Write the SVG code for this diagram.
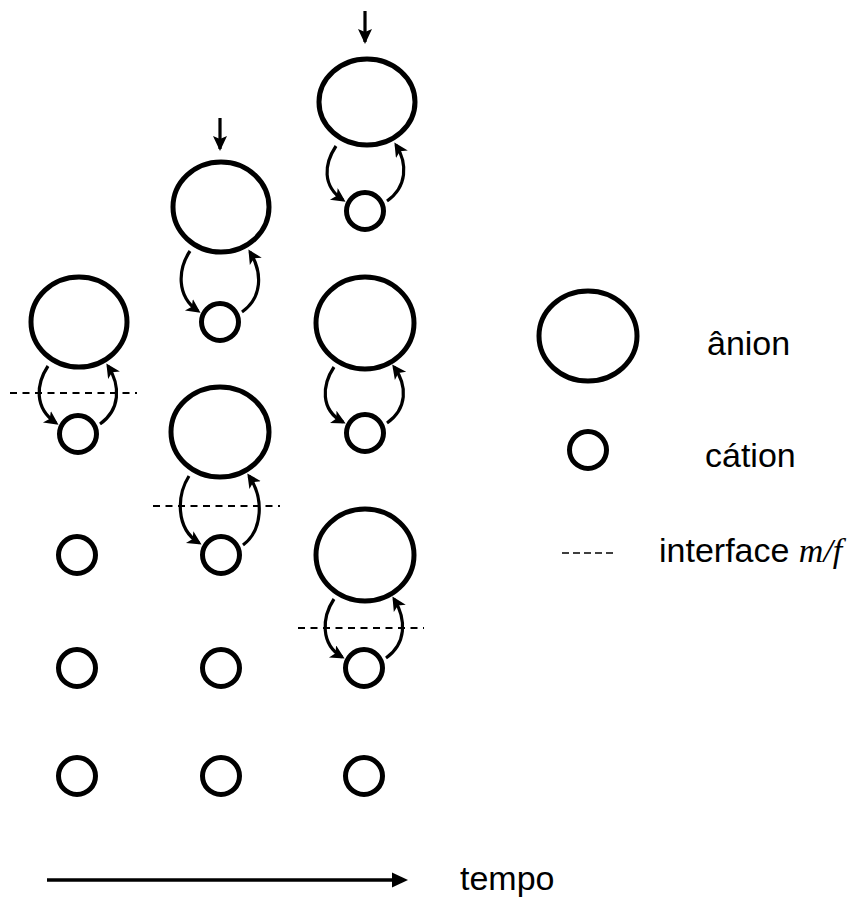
<svg xmlns="http://www.w3.org/2000/svg" width="864" height="899" viewBox="0 0 864 899">
<defs>
<style>
.an{fill:none;stroke:#000;stroke-width:5}
.ca{fill:none;stroke:#000;stroke-width:5}
.arr{fill:none;stroke:#000;stroke-width:3.2;marker-end:url(#ah)}
.down{fill:none;stroke:#000;stroke-width:3.2;marker-end:url(#ahb)}
.dash{fill:none;stroke:#000;stroke-width:1.8;stroke-dasharray:7 5.5}
.t{font-family:"Liberation Sans",Arial,sans-serif;font-size:34px;fill:#000}
.it{font-family:"Liberation Serif","Times New Roman",serif;font-style:italic}
</style>
<marker id="ah" markerUnits="userSpaceOnUse" markerWidth="16" markerHeight="16" refX="11" refY="7" orient="auto">
<path d="M0,0 L14,7 L0,14 L3.5,7 Z" fill="#000"/>
</marker>
<marker id="ahb" markerUnits="userSpaceOnUse" markerWidth="16" markerHeight="16" refX="13" refY="7" orient="auto">
<path d="M0,0 L15,7 L0,14 L3,7 Z" fill="#000"/>
</marker>
</defs>

<g id="col1">
<ellipse class="an" cx="79" cy="322" rx="48" ry="45"/>
<circle class="ca" cx="78" cy="434" r="18.5"/>
<circle class="ca" cx="77" cy="555" r="18.5"/>
<circle class="ca" cx="77" cy="668" r="18.5"/>
<circle class="ca" cx="77" cy="776" r="18.5"/>
</g>
<g id="col2">
<ellipse class="an" cx="221" cy="207" rx="48" ry="45"/>
<circle class="ca" cx="220" cy="322" r="18.5"/>
<ellipse class="an" cx="220" cy="432" rx="49" ry="45"/>
<circle class="ca" cx="221" cy="555" r="18.5"/>
<circle class="ca" cx="221" cy="668" r="18.5"/>
<circle class="ca" cx="221" cy="776" r="18.5"/>
</g>
<g id="col3">
<ellipse class="an" cx="367" cy="102" rx="48" ry="43"/>
<circle class="ca" cx="365" cy="211" r="18.5"/>
<ellipse class="an" cx="365" cy="323" rx="49" ry="46"/>
<circle class="ca" cx="365" cy="433" r="18.5"/>
<ellipse class="an" cx="365" cy="555" rx="49" ry="46"/>
<circle class="ca" cx="364" cy="668" r="18.5"/>
<circle class="ca" cx="364" cy="776" r="18.5"/>
</g>

<g id="connectors">
<path class="arr" d="M48,366 C36,384 34,408 56,423"/>
<path class="arr" d="M100,424 C120,410 121,386 108,366"/>
<line class="dash" x1="10" y1="393" x2="137" y2="393"/>
<path class="arr" d="M190,251 C178,269 176,296 198,311"/>
<path class="arr" d="M242,312 C262,298 263,273 250,252"/>
<line class="down" x1="220" y1="118" x2="220" y2="149"/>
<path class="arr" d="M189,476 C177,495 175,528 199,543"/>
<path class="arr" d="M243,545 C263,530 264,498 249,476"/>
<line class="dash" x1="153" y1="506" x2="280" y2="506"/>
<path class="arr" d="M336,146 C324,164 322,186 343,200"/>
<path class="arr" d="M387,201 C407,187 408,164 396,145"/>
<line class="down" x1="365" y1="11" x2="365" y2="42"/>
<path class="arr" d="M334,367 C322,385 320,410 343,422"/>
<path class="arr" d="M387,423 C407,409 408,386 394,367"/>
<path class="arr" d="M334,599 C322,617 320,644 342,657"/>
<path class="arr" d="M386,658 C406,644 407,620 394,599"/>
<line class="dash" x1="298" y1="628" x2="424" y2="628"/>
<line x1="47" y1="880" x2="395" y2="880" stroke="#000" stroke-width="3.5"/>
<path d="M392,872.5 L408,880 L392,887.5 Z" fill="#000"/>
</g>

<g id="legend">
<ellipse class="an" cx="588" cy="336" rx="49" ry="45"/>
<text class="t" x="707" y="355">ânion</text>
<circle class="ca" cx="588" cy="450" r="18.5"/>
<text class="t" x="705" y="467">cátion</text>
<line x1="562" y1="553" x2="616" y2="553" stroke="#000" stroke-width="1.3" stroke-dasharray="7 4"/>
<text class="t" x="659" y="562">interface <tspan class="it">m/f</tspan></text>
</g>
<text id="tempo" class="t" x="460" y="890">tempo</text>
</svg>
